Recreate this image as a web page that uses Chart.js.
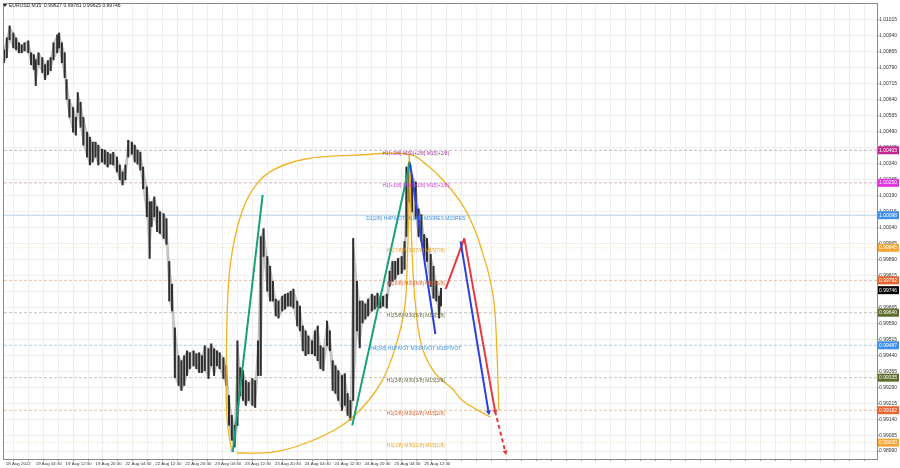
<!DOCTYPE html>
<html>
<head>
<meta charset="utf-8">
<script src="https://cdn.jsdelivr.net/npm/chart.js@4.4.0/dist/chart.umd.min.js"></script>
<style>
  html, body { margin: 0; padding: 0; background: #fff; }
  #chart { display: block; }
</style>
</head>
<body>
<canvas id="chart" width="900" height="468"></canvas>
<script>
// EURUSD M15, 18..25 Aug 2022
const symbol = 'EURUSD,M15';
const ohlc = ['0.99627', '0.99781', '0.99625', '0.99746'];
const lastPrice = 0.99746;

const timeLabels = ['18 Aug 2022', '19 Aug 04:30', '19 Aug 12:30', '19 Aug 20:30', '22 Aug 04:30',
    '22 Aug 12:30', '22 Aug 20:30', '23 Aug 04:30', '23 Aug 12:30', '23 Aug 20:30',
    '24 Aug 04:30', '24 Aug 12:30', '24 Aug 20:30', '25 Aug 04:30', '25 Aug 12:30'];

const priceTicks = [1.01015, 1.00940, 1.00865, 1.00790, 1.00715, 1.00640, 1.00565, 1.00490, 1.00415,
    1.00340, 1.00265, 1.00190, 1.00115, 1.00040, 0.99965, 0.99890, 0.99815, 0.99740, 0.99665,
    0.99590, 0.99515, 0.99440, 0.99365, 0.99290, 0.99215, 0.99140, 0.99065, 0.98990];

// price, sampled every ~3 bars: bar index, high, low
const bars = [0, 3, 6, 10, 13, 16, 19, 22, 26, 29,
    32, 34, 37, 41, 44, 47, 50, 53, 57, 59,
    62, 65, 67, 70, 74, 77, 79, 82, 85, 89,
    92, 95, 98, 101, 105, 108, 111, 114, 117, 121,
    124, 127, 130, 133, 137, 140, 143, 146, 149, 153,
    156, 158, 161, 164, 167, 171, 174, 177, 180, 183,
    187, 190, 193, 196, 199, 203, 206, 209, 212, 215,
    219, 222, 225, 228, 231, 235, 238, 241, 244, 247,
    250, 253, 256, 259, 262, 266, 269, 272, 275, 278,
    282, 285, 288, 291, 294, 298, 301, 304, 307, 310,
    314, 317, 320, 323, 326, 330, 333, 336, 339, 342,
    346, 349, 352, 355, 358, 362, 365, 368, 371, 374,
    378, 381, 384, 387, 390, 394, 397, 400, 403, 406,
    410, 413, 416, 419, 422, 426, 429, 431, 434, 437,
    441, 444, 447, 450, 453, 457, 460, 463, 466, 468];
const highs = [1.00875, 1.00931, 1.00987, 1.00954, 1.00931, 1.00908, 1.00898, 1.00908, 1.00917, 1.00861,
    1.00852, 1.00828, 1.00861, 1.00838, 1.00805, 1.00824, 1.00838, 1.00908, 1.00945, 1.00954,
    1.00908, 1.00861, 1.00735, 1.00642, 1.00604, 1.00558, 1.00674, 1.00628, 1.00558, 1.00488,
    1.00464, 1.00441, 1.00441, 1.00427, 1.00408, 1.00404, 1.00394, 1.00385, 1.00394, 1.00371,
    1.00334, 1.00301, 1.00334, 1.00450, 1.00441, 1.00427, 1.00404, 1.00394, 1.00324, 1.00231,
    1.00161, 1.00161, 1.00184, 1.00138, 1.00114, 1.00105, 1.00082, 0.99881, 0.99774, 0.99569,
    0.99438, 0.99415, 0.99438, 0.99461, 0.99452, 0.99461, 0.99447, 0.99452, 0.99438, 0.99485,
    0.99471, 0.99494, 0.99471, 0.99461, 0.99452, 0.99429, 0.99391, 0.99251, 0.99158, 0.99111,
    0.99508, 0.99382, 0.99368, 0.99321, 0.99312, 0.99331, 0.99321, 0.99508, 0.99998, 1.00035,
    0.99904, 0.99858, 0.99788, 0.99704, 0.99695, 0.99718, 0.99727, 0.99732, 0.99741, 0.99751,
    0.99695, 0.99671, 0.99578, 0.99555, 0.99531, 0.99508, 0.99555, 0.99578, 0.99485, 0.99475,
    0.99601, 0.99555, 0.99415, 0.99391, 0.99368, 0.99345, 0.99354, 0.99261, 0.99228, 0.99989,
    0.99788, 0.99695, 0.99695, 0.99681, 0.99704, 0.99727, 0.99718, 0.99732, 0.99713, 0.99718,
    0.99727, 0.99835, 0.99881, 0.99881, 0.99895, 0.99904, 0.99975, 1.00324, 1.00348, 1.00287,
    1.00254, 1.00128, 1.00100, 1.00007, 0.99989, 0.99914, 0.99858, 0.99788, 0.99718, 0.99755];
const lows = [1.00814, 1.00838, 1.00922, 1.00884, 1.00875, 1.00861, 1.00861, 1.00870, 1.00861, 1.00805,
    1.00782, 1.00707, 1.00805, 1.00768, 1.00735, 1.00758, 1.00777, 1.00828, 1.00861, 1.00884,
    1.00814, 1.00744, 1.00642, 1.00558, 1.00488, 1.00474, 1.00581, 1.00511, 1.00427, 1.00371,
    1.00334, 1.00348, 1.00371, 1.00334, 1.00348, 1.00338, 1.00324, 1.00338, 1.00334, 1.00301,
    1.00264, 1.00240, 1.00264, 1.00371, 1.00385, 1.00348, 1.00338, 1.00310, 1.00222, 1.00091,
    0.99895, 1.00044, 1.00091, 1.00021, 1.00012, 0.99989, 0.99961, 0.99695, 0.99648, 0.99335,
    0.99298, 0.99275, 0.99298, 0.99345, 0.99377, 0.99391, 0.99377, 0.99359, 0.99359, 0.99368,
    0.99331, 0.99391, 0.99345, 0.99391, 0.99377, 0.99331, 0.99298, 0.99111, 0.99041, 0.99009,
    0.99111, 0.99251, 0.99228, 0.99205, 0.99228, 0.99205, 0.99195, 0.99345, 0.99345, 0.99904,
    0.99741, 0.99695, 0.99695, 0.99625, 0.99615, 0.99648, 0.99657, 0.99671, 0.99671, 0.99662,
    0.99578, 0.99555, 0.99461, 0.99438, 0.99447, 0.99447, 0.99438, 0.99415, 0.99377, 0.99368,
    0.99485, 0.99461, 0.99275, 0.99261, 0.99228, 0.99181, 0.99205, 0.99158, 0.99135, 0.99228,
    0.99555, 0.99475, 0.99592, 0.99610, 0.99625, 0.99648, 0.99657, 0.99667, 0.99662, 0.99671,
    0.99662, 0.99764, 0.99788, 0.99797, 0.99820, 0.99825, 0.99844, 0.99998, 1.00161, 1.00114,
    1.00082, 0.99998, 0.99975, 0.99904, 0.99881, 0.99764, 0.99708, 0.99695, 0.99615, 0.99671];

// murrey levels
const levelPrices = [1.00403, 1.00250, 1.00098, 0.99945, 0.99792, 0.99640, 0.99487, 0.99335, 0.99182, 0.99030];
const levelTexts = ['H1[+2/8] M30[+2/8] M15[+2/8]', 'H1[+1/8] M30[+1/8] M15[+1/8]',
    'D1[2/8] H4PIVOT H1[8/8] M30RES M15RES', 'H1[7/8] M30[7/8] M15[7/8]', 'H1[6/8] M30[6/8] M15[6/8]',
    'H1[5/8] M30[5/8] M15[5/8]', 'H4[3/8] H1PIVOT M30PIVOT M15PIVOT', 'H1[3/8] M30[3/8] M15[3/8]',
    'H1[2/8] M30[2/8] M15[2/8]', 'H1[1/8] M30[1/8] M15[1/8]'];
const levelTextBar = 441;
const levelLineColors = ['#c4b4c4', '#d0b4d0', '#b4cfe6', '#f2d6a8', '#e8bba6', '#c2c2b2', '#b0cbe8', '#c2c2b8', '#e8bba6', '#f2d6a8'];
const levelDash = [[3, 2], [3, 2], [], [1, 2], [3, 2], [3, 2], [3, 2], [3, 2], [3, 2], [1, 2]];
const levelTextColors = ['#a83296', '#d93ad9', '#3a8ee6', '#e8a030', '#e0602a', '#6b6b4a', '#3a8ee6', '#6b6b4a', '#e0602a', '#e8a830'];
const levelBoxColors = ['#c2278f', '#e033e0', '#3d8fe8', '#f2a534', '#e8632e', '#5d6b2e', '#3d8fe8', '#5d6b2e', '#e8632e', '#f2a534'];

// drawn arcs (bar, price)
const arc1Bars = [244, 239, 238, 240, 245, 256, 270, 288, 323, 377, 434, 453, 469, 491, 505, 512, 519, 525, 528, 530];
const arc1Prices = [0.98985, 0.99135, 0.99354, 0.99741, 0.99942, 1.00128, 1.00240, 1.00310, 1.00362, 1.00380,
    1.00385, 1.00334, 1.00268, 1.00147, 1.00021, 0.99928, 0.99825, 0.99681, 0.99447, 0.99181];
const arc2Bars = [249, 288, 323, 359, 384, 405, 419, 429, 432, 434, 434];
const arc2Prices = [0.98981, 0.98985, 0.99027, 0.99102, 0.99195, 0.99321, 0.99475, 0.99662, 0.99895, 1.00208, 1.00380];
const arc3Bars = [434, 435, 437, 441, 448, 462, 480, 491, 521];
const arc3Prices = [1.00380, 1.00287, 0.99928, 0.99662, 0.99475, 0.99354, 0.99284, 0.99228, 0.99149];

// waves
const green1Bars = [245, 277], green1Prices = [0.98985, 1.00194];
const green2Bars = [373, 435], green2Prices = [0.99111, 1.00348];
const blue1Bars = [435, 462], blue1Prices = [1.00338, 0.99540];
const blue2Bars = [489, 519], blue2Prices = [0.99975, 0.99172];
const red1Bars = [473, 493], red1Prices = [0.99751, 0.99989];
const red2Bars = [493, 526], red2Prices = [0.99989, 0.99177];
const red3Bars = [526, 537], red3Prices = [0.99177, 0.98985];

const xMax = 935;
const yMin = 0.98953, yMax = 1.01090;

const pts = (xs, ys) => xs.map((x, i) => ({ x: x, y: ys[i] }));

function line(xs, ys, color, width, extra) {
    return Object.assign({
        type: 'line',
        data: pts(xs, ys),
        borderColor: color,
        borderWidth: width,
        pointRadius: 0,
        fill: false,
        order: 0
    }, extra || {});
}

function arrow(rot) {
    return { pointRadius: [0, 3], pointStyle: 'triangle', pointRotation: [0, rot], pointBorderWidth: 0 };
}

const datasets = [];
datasets.push(line(blue2Bars, blue2Prices, '#2a3fe0', 2, Object.assign(arrow(170), { pointBackgroundColor: '#2a3fe0' })));
datasets.push(line(red2Bars, red2Prices, '#e8383d', 2, Object.assign(arrow(170), { pointBackgroundColor: '#e8383d' })));
datasets.push(line(red3Bars, red3Prices, '#e8383d', 2, Object.assign(arrow(166), { pointBackgroundColor: '#e8383d', borderDash: [4, 3] })));
datasets.push(line(red1Bars, red1Prices, '#e8383d', 2));
datasets.push(line(blue1Bars, blue1Prices, '#2a3fe0', 2));
datasets.push(line(green1Bars, green1Prices, '#17a07c', 2));
datasets.push(line(green2Bars, green2Prices, '#17a07c', 2));
[[arc1Bars, arc1Prices], [arc2Bars, arc2Prices], [arc3Bars, arc3Prices]].forEach(a => {
    datasets.push(line(a[0], a[1], '#f1b21f', 1.3, { tension: 0.4, order: 1 }));
});
// candles: high-low sticks over a light shadow band
datasets.push({
    type: 'bar',
    data: bars.map((b, i) => ({ x: b, y: [lows[i], highs[i]] })),
    backgroundColor: '#2e2e2e',
    barThickness: 1.4,
    order: 2
});
datasets.push(line(bars, highs, 'rgba(150,150,150,0.6)', 0.8, { fill: '+1', backgroundColor: 'rgba(150,150,150,0.45)', order: 3 }));
datasets.push(line(bars, lows, 'rgba(150,150,150,0.6)', 0.8, { order: 3 }));
levelPrices.forEach((p, i) => {
    datasets.push(line([0, xMax], [p, p], levelLineColors[i], 1, { borderDash: levelDash[i], order: 4 }));
});

const gridBars = [];
for (let b = 2; b <= xMax; b += 16) gridBars.push(b);

const decor = {
    id: 'decor',
    beforeDraw(chart) {
        const c = chart.ctx;
        c.save();
        c.fillStyle = '#fff';
        c.fillRect(0, 0, chart.width, chart.height);
        c.restore();
    },
    afterDatasetsDraw(chart) {
        const c = chart.ctx, xs = chart.scales.x, ys = chart.scales.y;
        c.save();
        c.font = '5px "Liberation Sans"';
        c.textAlign = 'center';
        c.textBaseline = 'middle';
        levelPrices.forEach((p, i) => {
            c.fillStyle = levelTextColors[i];
            c.fillText(levelTexts[i], xs.getPixelForValue(levelTextBar), ys.getPixelForValue(p) + 3);
        });
        c.restore();
    },
    afterDraw(chart) {
        const c = chart.ctx, a = chart.chartArea, ys = chart.scales.y;
        c.save();
        c.strokeStyle = '#8a8a8a';
        c.lineWidth = 1;
        c.strokeRect(a.left - 0.5, a.top - 0.5, a.right - a.left + 1, a.bottom - a.top + 1);
        // title
        c.fillStyle = '#222';
        c.beginPath();
        c.moveTo(3, 4); c.lineTo(7, 4); c.lineTo(5, 7);
        c.closePath();
        c.fill();
        c.font = '5px "Liberation Sans"';
        c.textBaseline = 'middle';
        c.textAlign = 'left';
        c.fillText(symbol + '  ' + ohlc.join(' '), 9, 5.5);
        // price boxes on the axis
        const boxes = levelPrices.map((p, i) => ({ p: p, col: levelBoxColors[i] }));
        boxes.push({ p: lastPrice, col: '#000' });
        boxes.forEach(b => {
            const y = ys.getPixelForValue(b.p);
            c.fillStyle = b.col;
            c.fillRect(a.right + 1, y - 4, 21, 8);
            c.fillStyle = '#fff';
            c.fillText(b.p.toFixed(5), a.right + 2, y);
        });
        c.restore();
    }
};

Chart.defaults.font.family = '"Liberation Sans", Arial, sans-serif';

new Chart(document.getElementById('chart'), {
    type: 'line',
    data: { datasets: datasets },
    options: {
        responsive: false,
        animation: false,
        events: [],
        layout: { padding: { left: 1, top: 1, right: 0, bottom: 0 } },
        plugins: { legend: { display: false }, tooltip: { enabled: false } },
        scales: {
            x: {
                type: 'linear',
                position: 'bottom',
                min: 0,
                max: xMax,
                offset: false,
                afterBuildTicks: s => { s.ticks = gridBars.map(v => ({ value: v })); },
                afterFit: s => { s.height = 9; s.paddingLeft = 0; s.paddingRight = 0; },
                grid: { color: '#eeeeee', tickLength: 2, tickColor: '#999' },
                border: { color: '#8a8a8a' },
                ticks: {
                    autoSkip: false,
                    maxRotation: 0,
                    align: 'start',
                    padding: 0,
                    color: '#333',
                    font: { size: 4.4 },
                    callback: (v, i) => (i % 2 === 0 && timeLabels[i / 2]) ? timeLabels[i / 2] : ''
                }
            },
            y: {
                type: 'linear',
                position: 'right',
                min: yMin,
                max: yMax,
                afterBuildTicks: s => { s.ticks = priceTicks.map(v => ({ value: v })); },
                afterFit: s => { s.width = 23; s.paddingTop = 0; s.paddingBottom = 0; },
                grid: { color: '#eeeeee', tickLength: 2, tickColor: '#999' },
                border: { color: '#8a8a8a' },
                ticks: {
                    padding: 0,
                    color: '#333',
                    font: { size: 5 },
                    callback: v => v.toFixed(5)
                }
            }
        }
    },
    plugins: [decor]
});
</script>
</body>
</html>
